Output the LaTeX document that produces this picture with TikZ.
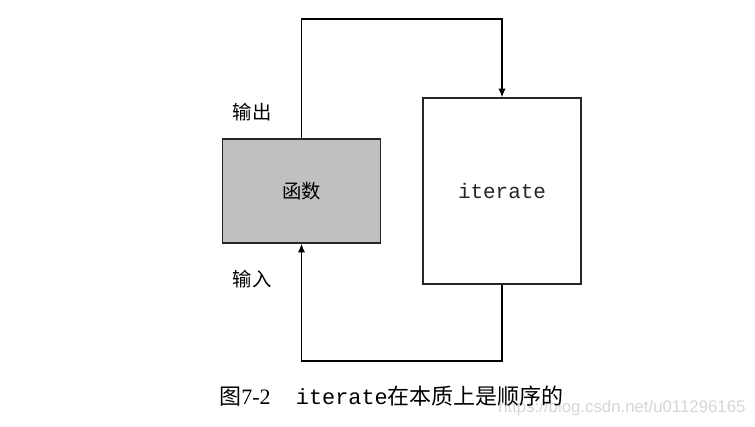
\documentclass[tikz,border=0pt]{standalone}
\usepackage{fontspec}
\setmainfont{Liberation Serif}
\newfontfamily\cjk{Noto Sans CJK SC}
\newfontfamily\monof{Liberation Mono}
\newfontfamily\wmfont{Liberation Sans}
\usetikzlibrary{arrows.meta}
\definecolor{boxgray}{HTML}{C0C0C0}
\definecolor{wmgray}{HTML}{D6D6D6}
\tikzset{
  box/.style={draw=black!85, line width=1pt, inner sep=0pt},
  conn/.style={draw=black, line width=1pt},
  arr/.style={conn, -{Latex[length=6.5pt,width=5.5pt]}},
  lbl/.style={inner sep=0pt, font=\cjk\fontsize{14.5}{16}\selectfont}
}
\begin{document}
\begin{tikzpicture}[x=0.75pt,y=-0.75pt]
\useasboundingbox (0,0) rectangle (755,426);
\node[box, fill=boxgray, minimum width=118.5pt, minimum height=78pt] (f) at (301.5,191) {};
\node[lbl] (ft) at (f.center) {函数};
\node[box, fill=white, minimum width=118.5pt, minimum height=139.5pt] (it) at (502,191) {};
\node[inner sep=0pt, text=black!85, font=\monof\fontsize{15.7}{17}\selectfont] (itt) at (it.center) {iterate};
\node[lbl] (out) at (252,112) {输出};
\node[lbl] (in) at (252,279) {输入};
\coordinate (tl) at (301.5,19);
\coordinate (tr) at (502,19);
\coordinate (bl) at (301.5,361);
\coordinate (br) at (502,361);
\draw[arr] (f.north) -- (tl) -- (tr) -- (it.north);
\draw[arr] (it.south) -- (br) -- (bl) -- (f.south);
\node[inner sep=0pt, anchor=west, font=\wmfont\fontsize{12.6}{14}\selectfont, text=wmgray] (wm) at (498,408) {https://blog.csdn.net/u011296165};
\node[inner sep=0pt, anchor=west, font=\fontsize{16.5}{18}\selectfont] (cap) at (219,396) {{\cjk 图}7-2\hspace{19pt}{\monof\fontsize{16.4}{18}\selectfont iterate}{\cjk 在本质上是顺序的}};
\end{tikzpicture}
\end{document}
